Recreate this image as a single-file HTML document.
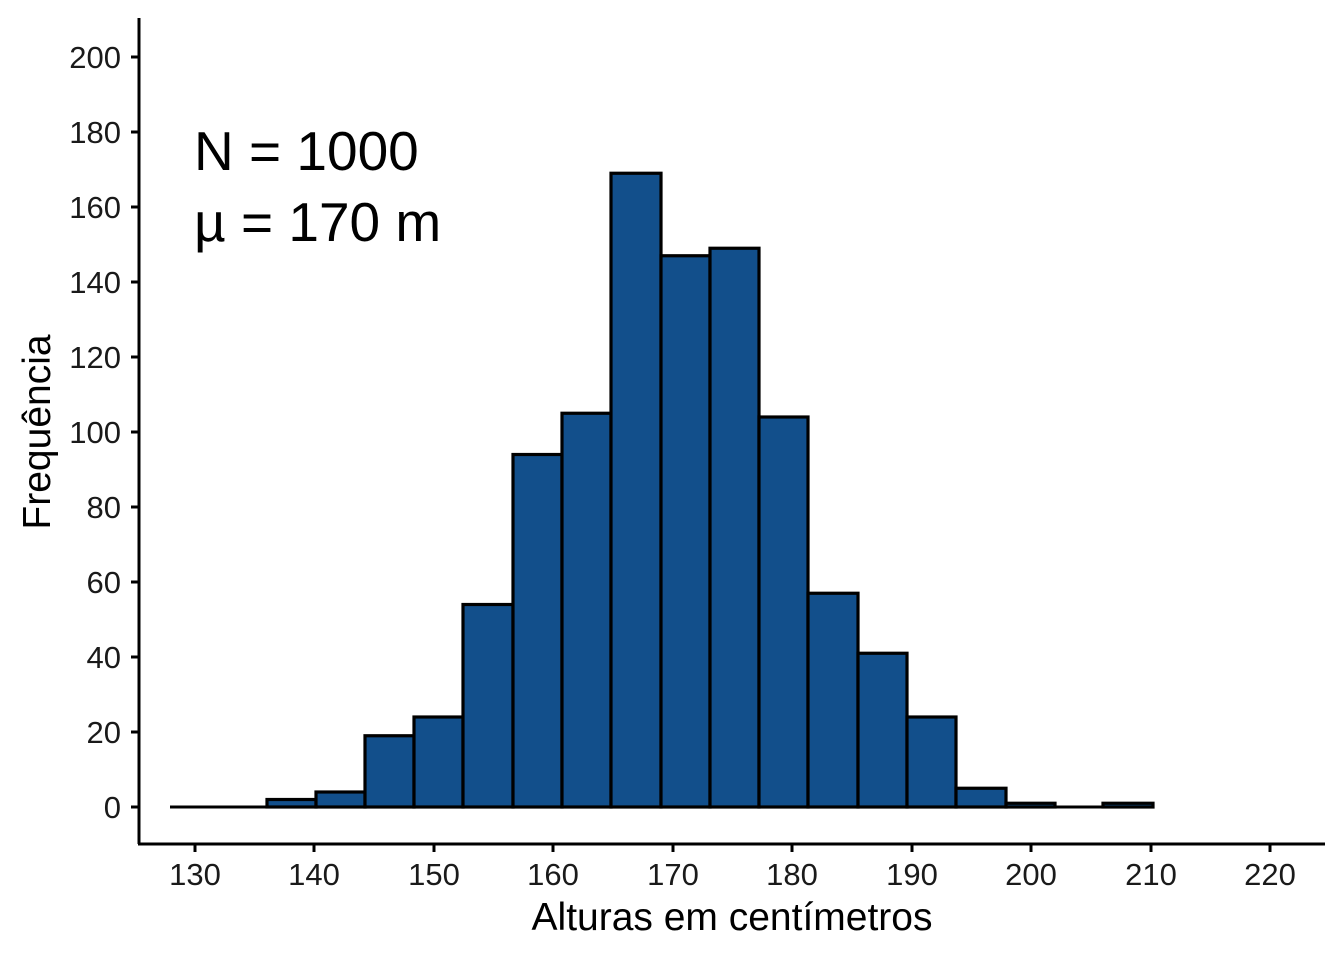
<!DOCTYPE html>
<html><head><meta charset="utf-8"><style>body{margin:0;background:#fff}</style></head>
<body>
<svg width="1344" height="960" xmlns="http://www.w3.org/2000/svg" font-family="Liberation Sans, DejaVu Sans, sans-serif">
<rect width="1344" height="960" fill="#fff"/>
<line x1="170" y1="807" x2="1153" y2="807" stroke="#000" stroke-width="3"/>
<g fill="#124f8b" stroke="#000" stroke-width="3.2">
<rect x="267" y="799.5" width="49" height="7.5"/>
<rect x="316" y="792" width="49" height="15"/>
<rect x="365" y="735.75" width="49" height="71.25"/>
<rect x="414" y="717" width="49" height="90"/>
<rect x="463" y="604.5" width="50" height="202.5"/>
<rect x="513" y="454.5" width="49" height="352.5"/>
<rect x="562" y="413.25" width="49" height="393.75"/>
<rect x="611" y="173.25" width="50" height="633.75"/>
<rect x="661" y="255.75" width="49" height="551.25"/>
<rect x="710" y="248.25" width="49" height="558.75"/>
<rect x="759" y="417" width="49" height="390"/>
<rect x="808" y="593.25" width="50" height="213.75"/>
<rect x="858" y="653.25" width="49" height="153.75"/>
<rect x="907" y="717" width="49" height="90"/>
<rect x="956" y="788.25" width="50" height="18.75"/>
<rect x="1006" y="803.25" width="49" height="3.75"/>
<rect x="1103" y="803.25" width="50" height="3.75"/>
</g>
<g stroke="#000" stroke-width="3" fill="none">
<line x1="139" y1="18" x2="139" y2="844"/>
<line x1="138" y1="844" x2="1325" y2="844"/>
<path d="M131 807H139M131 732H139M131 657H139M131 582H139M131 507H139M131 432H139M131 357H139M131 282H139M131 207H139M131 132H139M131 57H139"/>
<path d="M195 844V852M314 844V852M434 844V852M553 844V852M673 844V852M792 844V852M912 844V852M1031 844V852M1151 844V852M1270 844V852"/>
</g>
<g font-size="31" fill="#1a1a1a" text-anchor="end">
<text x="121" y="818">0</text><text x="121" y="743">20</text><text x="121" y="668">40</text><text x="121" y="593">60</text><text x="121" y="518">80</text><text x="121" y="443">100</text><text x="121" y="368">120</text><text x="121" y="293">140</text><text x="121" y="218">160</text><text x="121" y="143">180</text><text x="121" y="68">200</text>
</g>
<g font-size="31" fill="#1a1a1a" text-anchor="middle">
<text x="195" y="885">130</text><text x="314" y="885">140</text><text x="434" y="885">150</text><text x="553" y="885">160</text><text x="673" y="885">170</text><text x="792" y="885">180</text><text x="912" y="885">190</text><text x="1031" y="885">200</text><text x="1151" y="885">210</text><text x="1270" y="885">220</text>
</g>
<text x="732" y="930" font-size="39" text-anchor="middle">Alturas em centímetros</text>
<text transform="translate(50,432) rotate(-90)" font-size="39" text-anchor="middle">Frequência</text>
<text x="194" y="170" font-size="55">N = 1000</text>
<text x="194" y="241" font-size="55">µ = 170 m</text>
</svg>
</body></html>
